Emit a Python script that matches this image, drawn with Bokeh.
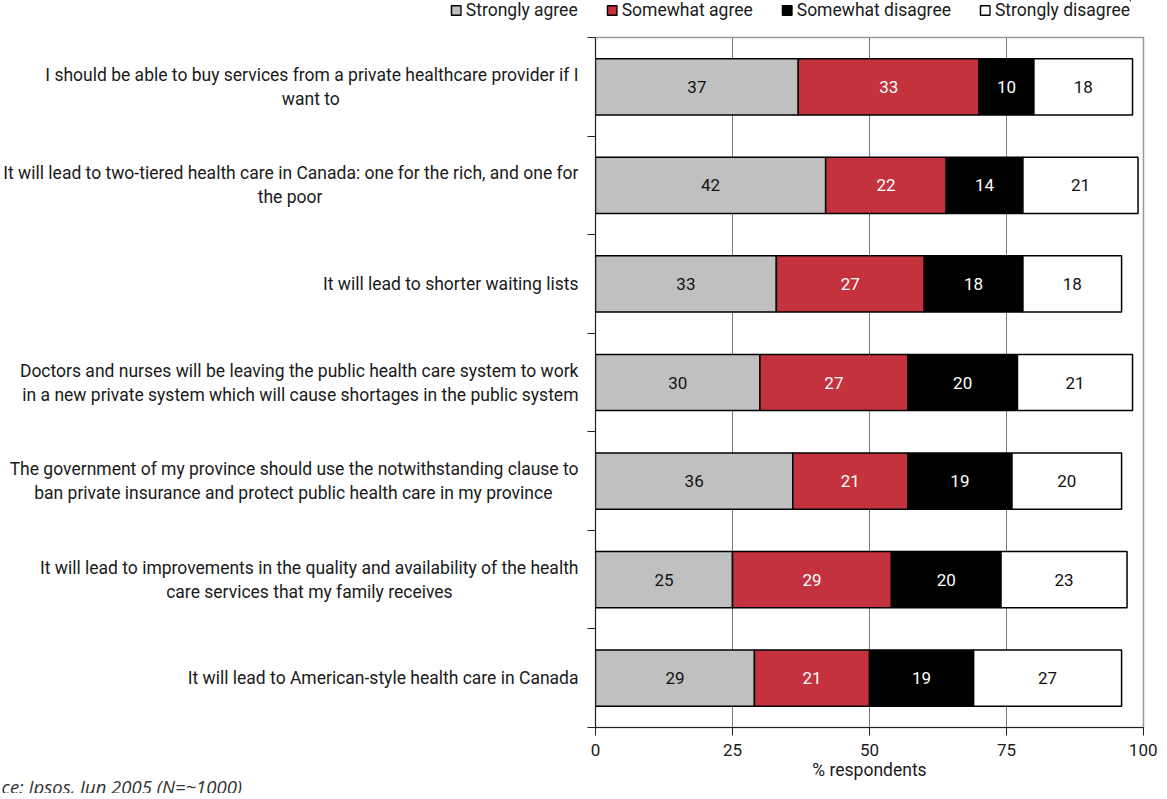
from bokeh.plotting import figure
from bokeh.layouts import column
from bokeh.models import (ColumnDataSource, Range1d, LinearAxis,
                          FixedTicker, Legend, LegendItem, Title)
from bokeh.core.properties import value
from bokeh.embed import file_html
from bokeh.resources import INLINE

# ---- data ----
label_lines = [
    ["I should be able to buy services from a private healthcare provider if I", "want to"],
    ["It will lead to two-tiered health care in Canada: one for the rich, and one for", "the poor"],
    ["It will lead to shorter waiting lists"],
    ["Doctors and nurses will be leaving the public health care system to work",
     "in a new private system which will cause shortages in the public system"],
    ["The government of my province should use the notwithstanding clause to",
     "ban private insurance and protect public health care in my province"],
    ["It will lead to improvements in the quality and availability of the health",
     "care services that my family receives"],
    ["It will lead to American-style health care in Canada"],
]
series_names = ["Strongly agree", "Somewhat agree", "Somewhat disagree", "Strongly disagree"]
strongly_agree = [37, 42, 33, 30, 36, 25, 29]
somewhat_agree = [33, 22, 27, 27, 21, 29, 21]
somewhat_disagree = [10, 14, 18, 20, 19, 20, 19]
strongly_disagree = [18, 21, 18, 21, 20, 23, 27]
x_ticks = [0, 25, 50, 75, 100]
source_text = "ce: Ipsos, Jun 2005 (N=~1000)"

# styling: trailing non-breaking spaces to centre the second line under the first
line2_pad = [55, 59, 0, 0, 6, 29, 0]
colors = ["#c0c0c0", "#c4323e", "#000000", "#ffffff"]
text_colors = ["#111111", "#ffffff", "#ffffff", "#111111"]
FONT = "Roboto"

labels = []
for lines, pad in zip(label_lines, line2_pad):
    if len(lines) > 1:
        labels.append(lines[0] + "\n" + lines[1] + "\u00a0" * pad)
    else:
        labels.append(lines[0])

series = [strongly_agree, somewhat_agree, somewhat_disagree, strongly_disagree]
n = len(labels)
# category centres, first category on top
ypos = [n - i - 0.5 for i in range(n)]

# ---- legend strip above the chart ----
leg = figure(width=1151, height=28, output_backend="svg", toolbar_location=None,
             x_range=Range1d(0, 1), y_range=Range1d(0, 1),
             x_axis_location=None, y_axis_location=None,
             min_border_left=0, min_border_top=0, min_border_bottom=0, min_border_right=21)
leg.outline_line_color = None
leg.xgrid.grid_line_color = None
leg.ygrid.grid_line_color = None
leg_renderers = []
for col in colors:
    # proxy bars kept outside the visible range; they only feed the legend swatches
    proxy = ColumnDataSource(dict(y=[5], left=[5], right=[6]))
    leg_renderers.append(leg.hbar(y="y", left="left", right="right", height=0.5, source=proxy,
                                  fill_color=col, line_color="#000000", line_width=1.5))
legend = Legend(items=[LegendItem(label=nm, renderers=[r]) for nm, r in zip(series_names, leg_renderers)],
                orientation="horizontal", location="top_right",
                label_text_font=FONT, label_text_font_size="17.5px", label_text_color="#1a1a1a",
                glyph_width=12, glyph_height=12, label_standoff=4, spacing=28,
                padding=0, margin=0, border_line_color=None, background_fill_alpha=0,
                label_height=18)
leg.add_layout(legend, "center")

# ---- main chart ----
p = figure(frame_width=548, frame_height=690, output_backend="svg", toolbar_location=None,
           y_range=Range1d(0, n), x_range=Range1d(0, 100), y_axis_location=None,
           min_border_left=589, min_border_right=14, min_border_top=9, min_border_bottom=66)

try:
    leg.frame_align = False
    p.frame_align = False
except Exception:
    pass

left = [0] * n
for name, vals, col, tcol in zip(series_names, series, colors, text_colors):
    right = [l + v for l, v in zip(left, vals)]
    mid = [(l + r) / 2 for l, r in zip(left, right)]
    src = ColumnDataSource(dict(y=ypos, left=left, right=right, mid=mid,
                                txt=[str(v) for v in vals]))
    p.hbar(y="y", left="left", right="right", height=0.57, source=src,
           fill_color=col, line_color="#000000", line_width=1.5)
    p.text(x="mid", y="y", text="txt", source=src, text_align="center", text_baseline="middle",
           text_font=value(FONT), text_font_size="17px", text_color=tcol)
    left = right

# y axis: labels at category centres, tick marks at category boundaries
ya = LinearAxis(ticker=FixedTicker(ticks=ypos, minor_ticks=list(range(n + 1))),
                axis_line_color="#222222",
                major_tick_line_color=None, major_tick_out=8, major_tick_in=0,
                minor_tick_line_color="#222222", minor_tick_out=8, minor_tick_in=0,
                major_label_standoff=9,
                major_label_overrides={y: lab for y, lab in zip(ypos, labels)},
                major_label_text_font=FONT, major_label_text_font_size="17.5px",
                major_label_text_color="#1a1a1a")
p.add_layout(ya, "left")

xa = p.xaxis[0]
xa.ticker = FixedTicker(ticks=x_ticks)
xa.major_tick_out = 8
xa.major_tick_in = 0
xa.minor_tick_line_color = None
xa.axis_line_color = "#222222"
xa.major_tick_line_color = "#222222"
xa.major_label_text_font = FONT
xa.major_label_text_font_size = "17px"
xa.major_label_text_color = "#1a1a1a"
xa.major_label_standoff = 8
xa.axis_label = "% respondents"
xa.axis_label_text_font = FONT
xa.axis_label_text_font_size = "17.5px"
xa.axis_label_text_font_style = "normal"
xa.axis_label_text_color = "#1a1a1a"
xa.axis_label_standoff = 1

p.xgrid.ticker = FixedTicker(ticks=x_ticks)
p.xgrid.grid_line_color = "#7a7a7a"
p.xgrid.grid_line_width = 1
p.ygrid.grid_line_color = None
p.outline_line_color = "#9a9a9a"
p.outline_line_width = 1.5

src_title = Title(text=source_text, align="left", offset=-594, text_font="Open Sans",
                  text_font_size="18.5px", text_font_style="italic", text_color="#333333",
                  vertical_align="bottom")
try:
    src_title.standoff = -22
except Exception:
    src_title.standoff = 0
p.add_layout(src_title, "below")

layout = column(leg, p, spacing=0)
open("out.html", "w").write(file_html(layout, INLINE))
